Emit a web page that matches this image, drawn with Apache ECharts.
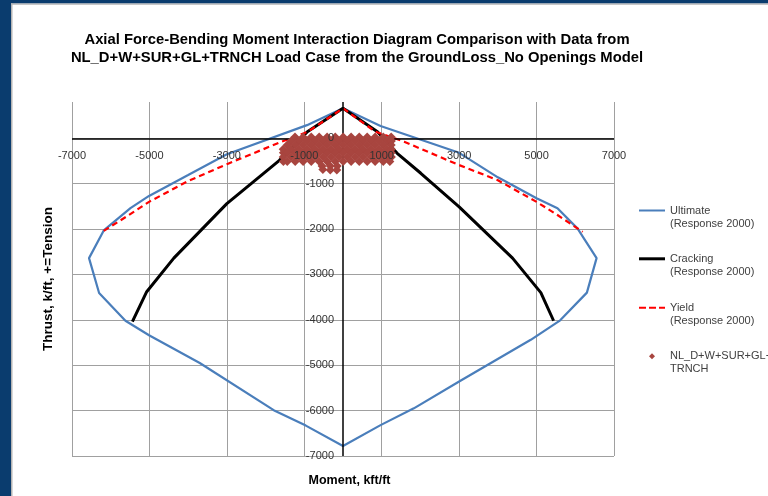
<!DOCTYPE html>
<html>
<head>
<meta charset="utf-8">
<script src="https://cdn.jsdelivr.net/npm/echarts@6/dist/echarts.min.js"></script>
<style>
  html, body { margin: 0; padding: 0; background: #ffffff; }
  #chart { width: 768px; height: 496px; }
</style>
</head>
<body>
<div id="chart"></div>
<script>
// Response 2000 interaction envelopes, points as [moment (kft/ft), thrust (k/ft)]
const ultimate = [
  [0, 660], [-930, 290], [-3000, -350], [-4000, -810], [-5010, -1270], [-5490, -1540],
  [-6180, -2030], [-6560, -2640], [-6300, -3410], [-5620, -4020], [-5010, -4340],
  [-3700, -4950], [-1790, -5990], [-960, -6330], [0, -6780], [970, -6320], [1830, -5950],
  [3000, -5360], [4850, -4440], [5610, -4010], [6300, -3400], [6550, -2640], [6060, -1990],
  [5540, -1540], [5000, -1320], [4000, -860], [3000, -320], [970, 270], [0, 660]
];
const cracking = [
  [-5440, -4040], [-5070, -3380], [-4370, -2640], [-3000, -1440], [-1650, -490], [-920, 145],
  [0, 660], [890, 145], [1400, -330], [2010, -770], [3000, -1510], [4380, -2640],
  [5110, -3400], [5440, -4020]
];
const yieldCurve = [
  [-6180, -2040], [-5530, -1690], [-5010, -1400], [-4020, -950], [-3000, -570], [-1600, -80],
  [-920, 140], [0, 660], [830, 150], [1580, -75], [3000, -590], [3990, -920], [5000, -1400],
  [5540, -1690], [6190, -2060]
];

// NL_D+W+SUR+GL+TRNCH load case results, [moment, thrust]
const loadCase = [
  [-1240, 30], [-1030, 30], [-820, 30], [-615, 30], [-410, 30], [-200, 30], [5, 30], [210, 30],
  [420, 30], [625, 30], [830, 30], [1040, 30], [1245, 30],
  [-1340, -60], [-1135, -60], [-925, -60], [-720, -60], [-510, -60], [-305, -60], [-100, -60],
  [110, -60], [315, -60], [520, -60], [730, -60], [935, -60], [1140, -60], [1250, -60],
  [-1440, -150], [-1235, -150], [-1030, -150], [-820, -150], [-615, -150], [-410, -150],
  [-200, -150], [5, -150], [210, -150], [420, -150], [625, -150], [830, -150], [1040, -150],
  [1245, -150],
  [-1545, -240], [-1340, -240], [-1135, -240], [-925, -240], [-720, -240], [-510, -240],
  [-305, -240], [-100, -240], [110, -240], [315, -240], [520, -240], [730, -240], [935, -240],
  [1140, -240], [1250, -240],
  [-1540, -320], [-1440, -320], [-1235, -320], [-1030, -320], [-820, -320], [-615, -320],
  [-410, -320], [-200, -320], [5, -320], [210, -320], [420, -320], [625, -320], [830, -320],
  [1040, -320], [1245, -320],
  [-1545, -410], [-1340, -410], [-1135, -410], [-925, -410], [-720, -410], [-510, -410],
  [-305, -410], [-100, -410], [110, -410], [315, -410], [520, -410], [730, -410], [935, -410],
  [1140, -410], [1250, -410],
  [-1540, -510], [-1440, -510], [-1235, -510], [-1030, -510], [-820, -510], [-615, -510],
  [-410, -510], [-200, -510], [5, -510], [210, -510], [420, -510], [625, -510], [830, -510],
  [1040, -510], [1210, -510],
  [-540, -610], [-330, -610], [-150, -610],
  [-520, -690], [-330, -700], [-160, -700]
];

// Axis ranges and tick spacing
const momentRange = [-7000, 7000];
const momentStep = 2000;
const thrustRange = [-7000, 800];
const thrustStep = 1000;

const FONT = '"Liberation Sans", Arial, sans-serif';
const chart = echarts.init(document.getElementById('chart'), null, { renderer: 'canvas' });

// Legend icons: solid strokes and a dashed stroke drawn as filled paths
const ICON_SOLID = 'path://M0,0H26V2H0Z';
const ICON_THICK = 'path://M0,0H26V3H0Z';
const ICON_DASH = 'path://M0,0H7V2H0Z M10,0H17V2H10Z M20,0H26V2H20Z';

function legendAt(name, top, icon, itemWidth, itemHeight, left, textPadLeft) {
  return {
    orient: 'vertical', left: left, top: top, padding: 0,
    itemWidth: itemWidth, itemHeight: itemHeight, selectedMode: false,
    data: [{ name: name, icon: icon }],
    textStyle: { fontSize: 11, lineHeight: 13, color: '#404040', fontFamily: FONT, padding: [0, 0, 0, textPadLeft] },
    formatter: function (n) {
      // leading blank line keeps the first text line level with the icon
      return '\n' + n.replace(' (', '\n(').replace('GL+TRNCH', 'GL+\nTRNCH');
    }
  };
}

const plainNumber = function (v) { return String(v); };

const scaleX = { type: 'value', min: momentRange[0], max: momentRange[1], interval: momentStep, position: 'bottom' };
const scaleY = { type: 'value', min: thrustRange[0], max: thrustRange[1], interval: thrustStep, position: 'left' };

chart.setOption({
  animation: false,
  backgroundColor: '#ffffff',
  textStyle: { fontFamily: FONT },
  title: {
    text: 'Axial Force-Bending Moment Interaction Diagram Comparison with Data from\nNL_D+W+SUR+GL+TRNCH Load Case from the GroundLoss_No Openings Model',
    left: 352, top: 26, textAlign: 'center',
    textStyle: { fontSize: 14.8, fontWeight: 'bold', lineHeight: 18, color: '#000', fontFamily: FONT }
  },
  graphic: [
    { type: 'rect', shape: { x: 0, y: 0, width: 11, height: 496 }, style: { fill: '#0a3c6e' }, z: 100 },
    { type: 'rect', shape: { x: 0, y: 0, width: 768, height: 3.5 }, style: { fill: '#0a3c6e' }, z: 100 },
    { type: 'rect', shape: { x: 11, y: 3.5, width: 1.5, height: 492.5 }, style: { fill: '#b4b4b4' }, z: 100 },
    { type: 'rect', shape: { x: 11, y: 3.5, width: 757, height: 1.2 }, style: { fill: '#b4b4b4' }, z: 100 }
  ],
  legend: [
    legendAt('Ultimate (Response 2000)', 191, ICON_SOLID, 26, 14, 639, 0),
    legendAt('Cracking (Response 2000)', 239.3, ICON_THICK, 26, 14, 639, 0),
    legendAt('Yield (Response 2000)', 288.3, ICON_DASH, 26, 14, 639, 0),
    legendAt('NL_D+W+SUR+GL+TRNCH', 336.7, 'diamond', 6, 6, 649, 10)
  ],
  grid: { left: 72, right: 154, top: 102, bottom: 40, containLabel: false, outerBoundsMode: 'none' },
  xAxis: [
    // tick labels along the zero line, drawn above the data
    Object.assign({}, scaleX, {
      axisLine: { show: false, onZero: false },
      axisTick: { show: false },
      axisLabel: { margin: 12.5, fontSize: 11, color: '#333', fontFamily: FONT, showMinLabel: true, showMaxLabel: true, formatter: plainNumber },
      splitLine: { show: false },
      z: 10
    }),
    // grid lines and the axis title at the plot edge, beneath the data
    Object.assign({}, scaleX, {
      name: 'Moment, kft/ft', nameLocation: 'middle', nameGap: 18,
      nameTextStyle: { fontSize: 12.5, fontWeight: 'bold', color: '#000', padding: [0, 0, 0, 13], fontFamily: FONT },
      axisLine: { show: false, onZero: false },
      axisTick: { show: false },
      axisLabel: { show: false },
      splitLine: { show: true, lineStyle: { color: '#a0a0a0', width: 1 } },
      z: 0
    })
  ],
  yAxis: [
    Object.assign({}, scaleY, {
      axisLine: { show: false, onZero: false },
      axisTick: { show: false },
      axisLabel: { margin: 9, fontSize: 11, color: '#333', fontFamily: FONT, showMaxLabel: false, formatter: plainNumber },
      splitLine: { show: false },
      z: 10
    }),
    Object.assign({}, scaleY, {
      name: 'Thrust, k/ft, +=Tension', nameLocation: 'middle', nameGap: 17, nameRotate: 90,
      nameTextStyle: { fontSize: 13.5, fontWeight: 'bold', color: '#000', fontFamily: FONT },
      axisLine: { show: false, onZero: false },
      axisTick: { show: false },
      axisLabel: { show: false },
      splitLine: { show: true, showMaxLine: false, lineStyle: { color: '#a0a0a0', width: 1 } },
      z: 0
    })
  ],
  series: [
    {
      name: 'Ultimate (Response 2000)', type: 'line', data: ultimate,
      symbol: 'none', lineStyle: { color: '#4a7ebb', width: 2.2 }, itemStyle: { color: '#4a7ebb' }, z: 2,
      // zero lines of both axes
      markLine: {
        silent: true, symbol: 'none', label: { show: false }, animation: false,
        lineStyle: { color: '#000', width: 1.5, type: 'solid' },
        emphasis: { disabled: true },
        data: [{ xAxis: 0 }, { yAxis: 0 }]
      }
    },
    {
      name: 'Cracking (Response 2000)', type: 'line', data: cracking,
      symbol: 'none', lineStyle: { color: '#000000', width: 3 }, itemStyle: { color: '#000000' }, z: 3
    },
    {
      name: 'Yield (Response 2000)', type: 'line', data: yieldCurve,
      symbol: 'none', lineStyle: { color: '#ff0000', width: 2.2, type: [6, 4] }, itemStyle: { color: '#ff0000' }, z: 4
    },
    {
      name: 'NL_D+W+SUR+GL+TRNCH', type: 'scatter', data: loadCase,
      symbol: 'diamond', symbolSize: 9, itemStyle: { color: '#a8453f', opacity: 1 }, z: 5
    }
  ]
});

// Move the tick-label axes from the plot edges onto the zero lines
const zeroPx = chart.convertToPixel({ xAxisIndex: 0, yAxisIndex: 0 }, [0, 0]);
const cornerPx = chart.convertToPixel({ xAxisIndex: 0, yAxisIndex: 0 }, [momentRange[0], thrustRange[0]]);
chart.setOption({
  xAxis: [{ offset: zeroPx[1] - cornerPx[1] }, {}],
  yAxis: [{ offset: cornerPx[0] - zeroPx[0] }, {}]
});
</script>
</body>
</html>
